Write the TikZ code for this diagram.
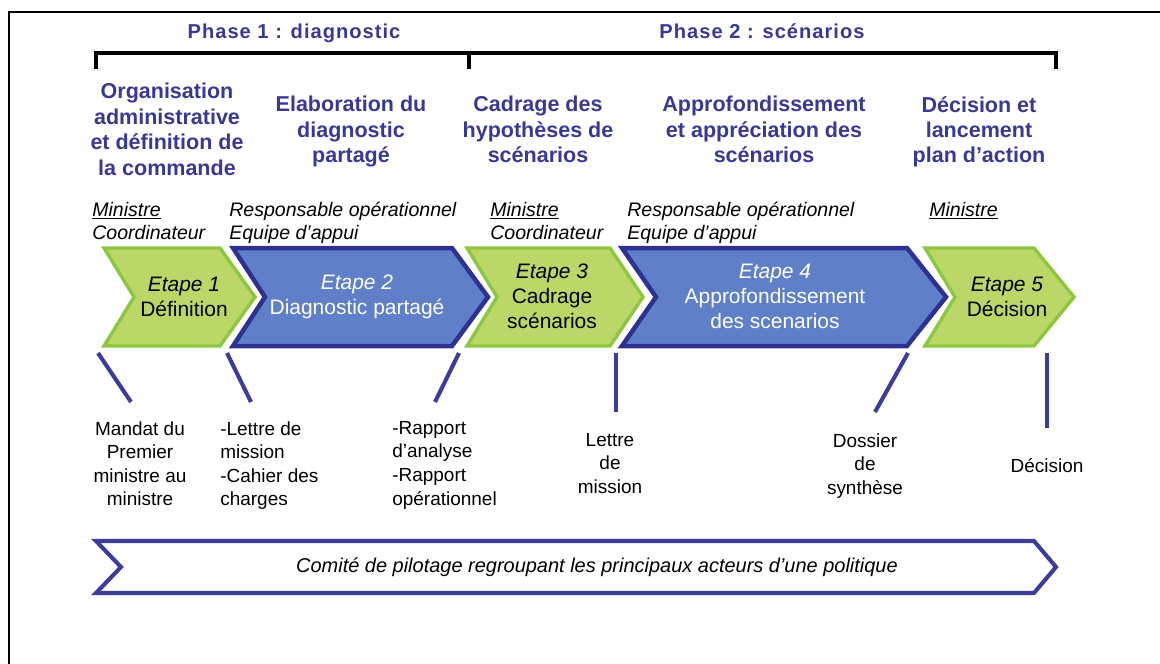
\documentclass[tikz,border=0pt]{standalone}
\usepackage{fontspec}
\setmainfont{Liberation Sans}
\definecolor{titleblue}{RGB}{57,57,148}
\definecolor{stepgreen}{RGB}{187,215,104}
\definecolor{stepgreenline}{RGB}{141,198,63}
\definecolor{stepblue}{RGB}{95,128,200}
\definecolor{stepblueline}{RGB}{46,49,146}
\definecolor{linkblue}{RGB}{60,60,155}

\begin{document}
\begin{tikzpicture}[x=0.025cm,y=-0.025cm,
    phasetitle/.style={font=\bfseries\fontsize{14.3}{16}\selectfont\addfontfeature{LetterSpace=5},text=titleblue,inner sep=0,anchor=base},
    heading/.style={font=\bfseries\fontsize{15.3}{18.1}\selectfont,text=titleblue,align=center,inner sep=0,anchor=north},
    role/.style={font=\itshape\fontsize{13.9}{16.4}\selectfont,align=left,inner sep=0,anchor=north west},
    steptext/.style={font=\fontsize{14.9}{17.8}\selectfont,align=center,inner sep=0},
    doc/.style={font=\fontsize{13.5}{16.8}\selectfont,inner sep=0,anchor=north},
    greenstep/.style={fill=stepgreen,draw=stepgreenline,line width=2.4pt,line join=miter},
    bluestep/.style={fill=stepblue,draw=stepblueline,line width=3.2pt,line join=miter},
    link/.style={draw=linkblue,line width=2.9pt},
    band/.style={fill=white,draw=linkblue,line width=2.9pt,line join=miter}]
    % Frame
    \useasboundingbox (0,0) rectangle (1160,664);
    \draw[line width=1.5pt] (9,664) -- (9,12) -- (1160,12);
    % Phases
    \node[phasetitle] (phase1) at (294,38) {Phase 1 : diagnostic};
    \node[phasetitle] (phase2) at (762,38) {Phase 2 : scénarios};
    \draw[line width=2.9pt] (96,69) -- (96,53) -- (1056,53) -- (1056,69);
    \draw[line width=2.9pt] (469,53) -- (469,69);
    % Headings
    \node[heading] (head1) at (167,83) {Organisation\\administrative\\et définition de\\la commande};
    \node[heading] (head2) at (351,96) {Elaboration du\\diagnostic\\partagé};
    \node[heading] (head3) at (538,96) {Cadrage des\\hypothèses de\\scénarios};
    \node[heading] (head4) at (764,96) {Approfondissement\\et appréciation des\\scénarios};
    \node[heading] (head5) at (979,96) {Décision et\\lancement\\plan d'action};
    % Roles
    \node[role] (role1) at (92,202) {\underline{Ministre}\\Coordinateur};
    \node[role] (role2) at (229,202) {Responsable opérationnel\\Equipe d'appui};
    \node[role] (role3) at (490,202) {\underline{Ministre}\\Coordinateur};
    \node[role] (role4) at (627,202) {Responsable opérationnel\\Equipe d'appui};
    \node[role] (role5) at (929,202) {\underline{Ministre}};
    % Steps
    \draw[greenstep] (104,248) -- (220,248) -- (255,297) -- (220,346) -- (104,346) -- (134,297) -- cycle;
    \draw[bluestep] (233,248) -- (452,248) -- (488,297) -- (452,346) -- (233,346) -- (265,297) -- cycle;
    \draw[greenstep] (467,248) -- (610,248) -- (643,297) -- (610,346) -- (467,346) -- (497,297) -- cycle;
    \draw[bluestep] (622,248) -- (907,248) -- (946,297) -- (907,346) -- (622,346) -- (656,297) -- cycle;
    \draw[greenstep] (925,248) -- (1034,248) -- (1074,297) -- (1034,346) -- (925,346) -- (955,297) -- cycle;
    \node[steptext] (step1) at (184,297) {\textit{Etape 1}\\Définition};
    \node[steptext,text=white] (step2) at (357,297) {\textit{Etape 2}\\Diagnostic partagé};
    \node[steptext] (step3) at (552,296) {\textit{Etape 3}\\Cadrage\\scénarios};
    \node[steptext,text=white] (step4) at (775,296) {\textit{Etape 4}\\Approfondissement\\des scenarios};
    \node[steptext] (step5) at (1007,297) {\textit{Etape 5}\\Décision};
    % Links
    \coordinate (link1a) at (98,353);   \coordinate (link1b) at (131,402);
    \coordinate (link2a) at (227,353);  \coordinate (link2b) at (251,402);
    \coordinate (link3a) at (459,353);  \coordinate (link3b) at (435,402);
    \coordinate (link4a) at (616,353);  \coordinate (link4b) at (616,412);
    \coordinate (link5a) at (908,353);  \coordinate (link5b) at (875,412);
    \coordinate (link6a) at (1047,353); \coordinate (link6b) at (1047,428);
    \draw[link] (link1a) -- (link1b);
    \draw[link] (link2a) -- (link2b);
    \draw[link] (link3a) -- (link3b);
    \draw[link] (link4a) -- (link4b);
    \draw[link] (link5a) -- (link5b);
    \draw[link] (link6a) -- (link6b);
    % Documents
    \node[doc,align=center] (doc1) at (140,421) {Mandat du\\Premier\\ministre au\\ministre};
    \node[doc,align=left,anchor=north west] (doc2) at (220,421) {-Lettre de\\mission\\-Cahier des\\charges};
    \node[doc,align=left,anchor=north west] (doc3) at (392,421) {-Rapport\\d'analyse\\-Rapport\\opérationnel};
    \node[doc,align=center] (doc4) at (610,433) {Lettre\\de\\mission};
    \node[doc,align=center] (doc5) at (865,433) {Dossier\\de\\synthèse};
    \node[doc] (doc6) at (1047,458) {Décision};
    % Steering committee
    \draw[band] (96,541) -- (1034,541) -- (1056,567) -- (1034,593) -- (96,593) -- (121,567) -- cycle;
    \node[font=\itshape\fontsize{14.2}{16}\selectfont] (comite) at (597,567) {Comité de pilotage regroupant les principaux acteurs d'une politique};
\end{tikzpicture}
\end{document}
